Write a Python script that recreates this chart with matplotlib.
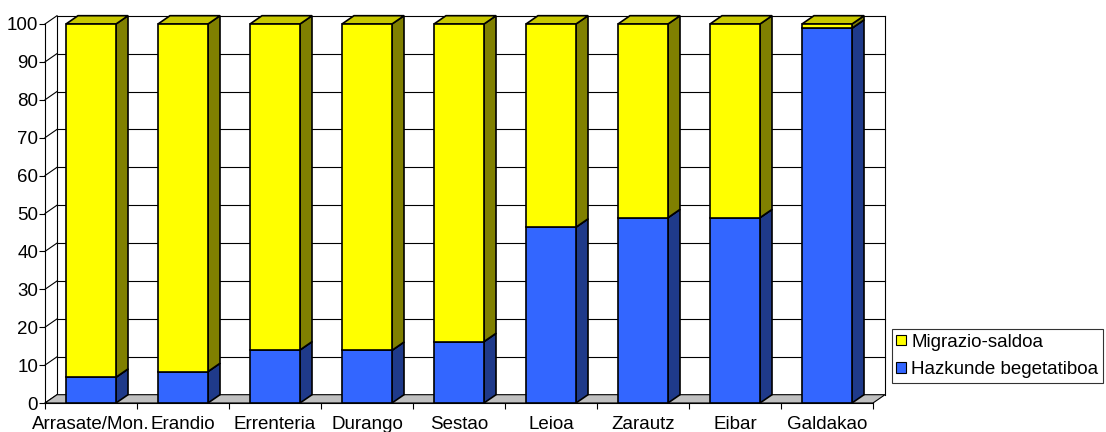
import matplotlib
matplotlib.use("Agg")
import matplotlib.pyplot as plt
from matplotlib.patches import Polygon, Rectangle, Patch

plt.rcParams['font.family'] = ['Liberation Sans', 'DejaVu Sans']

categories = ["Arrasate/Mon.", "Erandio", "Errenteria", "Durango", "Sestao",
              "Leioa", "Zarautz", "Eibar", "Galdakao"]
hazkunde = [6.8, 8.3, 14.0, 13.9, 16.2, 46.4, 48.9, 48.9, 98.9]
migrazio = [93.2, 91.7, 86.0, 86.1, 83.8, 53.6, 51.1, 51.1, 1.1]
yticks = [0, 10, 20, 30, 40, 50, 60, 70, 80, 90, 100]

series = [
    ("Hazkunde begetatiboa", hazkunde, "#3366FF", "#1F3A8A", "#2A4FC0"),
    ("Migrazio-saldoa", migrazio, "#FFFF00", "#808000", "#C8C800"),
]

FS = 13.5
fig = plt.figure(figsize=(11.06, 4.32), dpi=100)
x0p, y0p, x1p, y1p = 45, 403, 873, 24
ax = fig.add_axes([x0p / 1106, (432 - y0p) / 432, (x1p - x0p) / 1106, (y0p - y1p) / 432])
n = len(categories)
ax.set_xlim(0, n)
ax.set_ylim(0, 100)

pxx = (x1p - x0p) / n
pxy = (y0p - y1p) / 100
DX = 12 / pxx
DY = 8.3 / pxy
bw = 50 / pxx

kw = dict(clip_on=False)
# floor
ax.add_patch(Polygon([(0, 0), (n, 0), (n + DX, DY), (DX, DY)], closed=True,
                     fc="#C0C0C0", ec="black", lw=0.8, zorder=1, **kw))
# back wall grid and side wall lines
for v in yticks:
    if v > 0:
        ax.plot([DX, n + DX], [v + DY, v + DY], color="black", lw=0.8, zorder=0.5, **kw)
    ax.plot([0, DX], [v, v + DY], color="black", lw=0.8, zorder=0.5, **kw)
ax.plot([DX, DX], [DY, 100 + DY], color="black", lw=0.8, zorder=0.5, **kw)
ax.plot([n + DX, n + DX], [DY, 100 + DY], color="black", lw=0.8, zorder=0.5, **kw)

# bars
lw = 1.2
for i in range(n):
    xa = i + 0.5 - bw / 2
    xb = xa + bw
    bottom = 0
    for k, (name, vals, cf, cs, ct) in enumerate(series):
        top = bottom + vals[i]
        z = 3 + k
        ax.add_patch(Polygon([(xb, bottom), (xb + DX, bottom + DY), (xb + DX, top + DY), (xb, top)],
                             closed=True, fc=cs, ec="black", lw=lw, zorder=z, **kw))
        ax.add_patch(Polygon([(xa, top), (xb, top), (xb + DX, top + DY), (xa + DX, top + DY)],
                             closed=True, fc=ct, ec="black", lw=lw, zorder=z, **kw))
        ax.add_patch(Rectangle((xa, bottom), bw, vals[i], fc=cf, ec="black", lw=lw,
                               zorder=z + 0.5, **kw))
        bottom = top

for s in ["top", "right"]:
    ax.spines[s].set_visible(False)
for s in ["left", "bottom"]:
    ax.spines[s].set_linewidth(0.8)
    ax.spines[s].set_zorder(2)
ax.set_facecolor("none")

ax.set_yticks(yticks)
ax.set_yticklabels([str(v) for v in yticks])
ax.tick_params(axis="y", length=4, width=0.8, pad=1, labelsize=FS)
ax.set_xticks(range(n + 1))
ax.set_xticklabels([""] * (n + 1))
ax.tick_params(axis="x", which="major", length=4.5, width=0.8)
ax.set_xticks([i + 0.5 for i in range(n)], minor=True)
ax.set_xticklabels(categories, minor=True)
ax.tick_params(axis="x", which="minor", length=0, pad=19, labelsize=FS)
for lab in ax.get_xticklabels(minor=True):
    lab.set_verticalalignment("baseline")

handles = [Patch(fc="#FFFF00", ec="black", lw=0.8), Patch(fc="#3366FF", ec="black", lw=0.8)]
leg = fig.legend(handles, ["Migrazio-saldoa", "Hazkunde begetatiboa"],
                 loc="upper left", bbox_to_anchor=(891.5 / 1106, 1 - 329 / 432),
                 frameon=True, fancybox=False, fontsize=FS, handlelength=0.5,
                 handleheight=0.5, handletextpad=0.3, borderpad=0.25, labelspacing=0.55,
                 borderaxespad=0)
leg.get_frame().set_edgecolor("black")
leg.get_frame().set_linewidth(0.8)

fig.savefig("out.png", dpi=100)
